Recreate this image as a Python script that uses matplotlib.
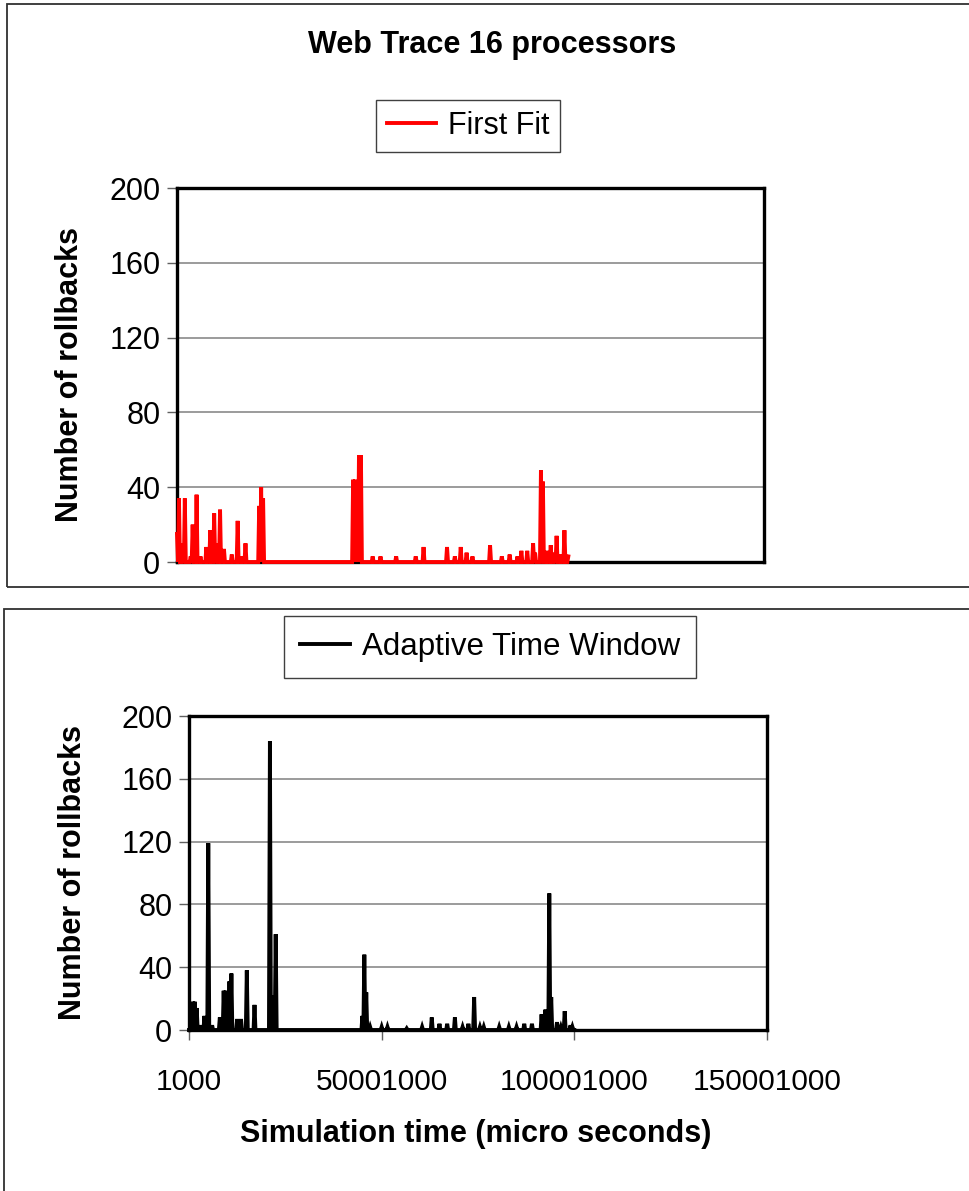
import numpy as np
import matplotlib
matplotlib.use('Agg')
import matplotlib.pyplot as plt
from matplotlib.patches import Rectangle

plt.rcParams['font.family'] = ['Liberation Sans', 'DejaVu Sans']

# ---------------- data ----------------
T0 = 1000                 # first simulation time (micro seconds)
T_END = 100001000         # last sampled simulation time
SAMPLE_STEP = 250000      # sampling interval (micro seconds)

# First Fit: non-zero samples (simulation time in micro seconds, number of rollbacks)
ff_time = [1000, 501000, 1501000, 2001000, 3501000, 4001000, 5001000, 6001000,
           7501000, 8501000, 9501000, 10001000, 11001000, 12001000, 14001000,
           15501000, 16501000, 17501000, 21001000, 21501000, 22001000,
           45001000, 45501000, 46001000, 46501000, 47001000, 50001000, 52001000,
           56001000, 61001000, 63001000, 69001000, 71001000, 72501000, 74001000,
           75501000, 80001000, 83001000, 85001000, 87001000, 88001000, 89501000,
           91001000, 91501000, 93001000, 93501000, 94501000, 95501000, 96501000,
           97001000, 98001000, 99001000, 100001000]
ff_rollbacks = [15, 34, 10, 34, 3, 20, 36, 3,
                8, 17, 26, 10, 28, 7, 4,
                22, 3, 10, 30, 40, 34,
                44, 44, 30, 57, 57, 3, 3,
                3, 3, 8, 8, 3, 8, 5,
                3, 9, 3, 4, 3, 6, 6,
                10, 5, 49, 43, 6, 9, 5,
                14, 4, 17, 3]

# Adaptive Time Window: non-zero samples
atw_time = [1001000, 1501000, 2001000, 3001000, 4001000, 5001000, 6001000,
            8001000, 9001000, 9501000, 10001000, 10501000, 11001000, 12501000,
            13501000, 15001000, 17001000, 21001000, 22001000, 22501000,
            45001000, 45501000, 46001000, 47001000, 50001000, 51501000, 56501000,
            60501000, 63001000, 65001000, 67001000, 69001000, 71001000, 72501000,
            74001000, 75501000, 76501000, 80501000, 83001000, 85001000, 87001000,
            89001000, 91501000, 92501000, 93501000, 94001000, 95501000, 96501000,
            97501000, 99001000, 99501000]
atw_rollbacks = [18, 18, 14, 3, 9, 119, 3,
                 8, 25, 25, 20, 31, 36, 7,
                 7, 38, 16, 184, 22, 61,
                 9, 48, 24, 2, 2, 2, 1,
                 2, 8, 4, 4, 8, 2, 4,
                 21, 2, 2, 2, 2, 2, 4,
                 4, 10, 13, 87, 21, 5, 2,
                 12, 3, 2]

x_ticks = [1000, 50001000, 100001000, 150001000]
x_tick_labels = ['1000', '50001000', '100001000', '150001000']
y_ticks = [0, 40, 80, 120, 160, 200]

title = 'Web Trace 16 processors'
ylabel = 'Number of rollbacks'
xlabel = 'Simulation time (micro seconds)'

# ---------------- series ----------------
times = np.arange(T0, T_END + 1, SAMPLE_STEP)

def build_series(sample_times, counts):
    vals = np.zeros(len(times))
    idx = np.round((np.array(sample_times) - T0) / SAMPLE_STEP).astype(int)
    vals[idx] = counts
    return vals

ff = build_series(ff_time, ff_rollbacks)
atw = build_series(atw_time, atw_rollbacks)

W, H = 969, 1191
fig = plt.figure(figsize=(W / 100, H / 100), dpi=100)
fig.patch.set_facecolor('white')

def fx(px):
    return px / W

def fy(py):
    return 1 - py / H

# panel frames
fig.add_artist(Rectangle((fx(7), fy(587)), 1.2, (587 - 4) / H, transform=fig.transFigure,
                         fill=False, edgecolor='#303030', linewidth=1.3))
fig.add_artist(Rectangle((fx(4), -0.2), 1.2, fy(609) + 0.2, transform=fig.transFigure,
                         fill=False, edgecolor='#303030', linewidth=1.3))

def style_axes(ax, show_x):
    ax.set_xlim(x_ticks[0], x_ticks[-1])
    ax.set_ylim(0, 200)
    ax.set_yticks(y_ticks)
    ax.set_yticklabels([str(v) for v in y_ticks], fontsize=22)
    ax.yaxis.grid(True, color='#808080', linewidth=1.1)
    ax.set_axisbelow(True)
    for s in ax.spines.values():
        s.set_linewidth(2.4)
        s.set_color('black')
    ax.tick_params(axis='y', length=7, width=1.0, color='#606060', pad=5)
    if show_x:
        ax.set_xticks(x_ticks)
        ax.set_xticklabels(x_tick_labels, fontsize=21.5)
        ax.tick_params(axis='x', length=7, width=1.0, color='#606060', pad=20)
    else:
        ax.set_xticks([])

# top chart
ax1 = fig.add_axes([fx(177), fy(562), (764 - 177) / W, (562 - 188) / H])
style_axes(ax1, False)
l1, = ax1.plot(times, ff, color='#ff0000', linewidth=2.8, zorder=3, clip_on=False,
               solid_joinstyle='miter', label='First Fit')
fig.text(fx(492), fy(45), title, ha='center', va='center', fontsize=22, fontweight='bold')
fig.legend(handles=[l1], loc='center', bbox_to_anchor=(fx(468), fy(126)), fontsize=22,
           frameon=True, fancybox=False, edgecolor='#404040', handlelength=1.6,
           handletextpad=0.4, borderpad=0.35, framealpha=1)
fig.text(fx(70), fy(375), ylabel, rotation=90, ha='center', va='center',
         fontsize=22, fontweight='bold')

# bottom chart
ax2 = fig.add_axes([fx(189), fy(1030), (767 - 189) / W, (1030 - 716) / H])
style_axes(ax2, True)
l2, = ax2.plot(times, atw, color='black', linewidth=2.8, zorder=3, clip_on=False,
               solid_joinstyle='miter', label='Adaptive Time Window')
fig.legend(handles=[l2], loc='center', bbox_to_anchor=(fx(490), fy(647)), fontsize=22.5,
           frameon=True, fancybox=False, edgecolor='#404040', handlelength=1.6,
           handletextpad=0.4, borderpad=0.5, framealpha=1)
fig.text(fx(73), fy(872), ylabel, rotation=90, ha='center', va='center',
         fontsize=22, fontweight='bold')
fig.text(fx(476), fy(1134), xlabel, ha='center', va='center', fontsize=22, fontweight='bold')

fig.savefig('out.png', dpi=100, facecolor='white')
